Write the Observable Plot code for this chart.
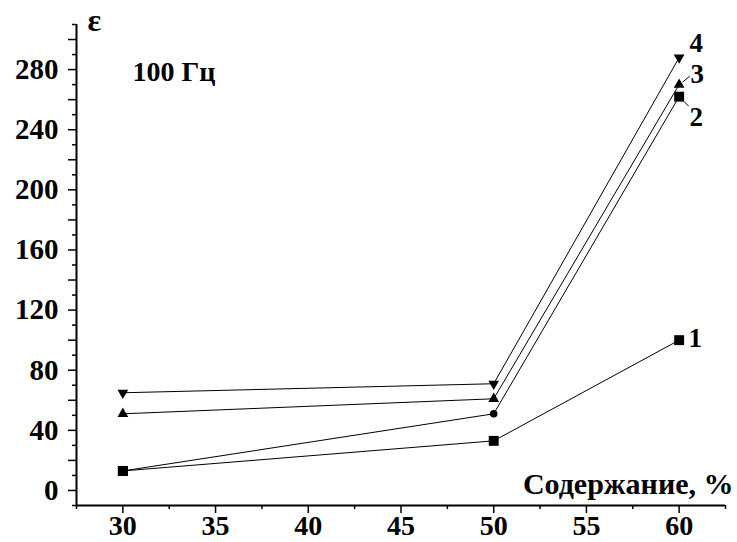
<!DOCTYPE html>
<html><head><meta charset="utf-8">
<script src="https://cdn.jsdelivr.net/npm/d3@7"></script>
<script src="https://cdn.jsdelivr.net/npm/@observablehq/plot@0.6"></script>
<style>
html,body{margin:0;padding:0;background:#fff;}
svg{display:block;}
</style></head>
<body><div id="chart"></div>
<script>
const contents = [30, 50, 60];
const series1 = [13, 33, 100];
const series2 = [13, 51, 262];
const series3 = [51, 61, 270];
const series4 = [65, 71, 288];
const seriesNames = ["1", "2", "3", "4"];
const yTickLabels = [0, 40, 80, 120, 160, 200, 240, 280];
const xTickLabels = [30, 35, 40, 45, 50, 55, 60];
const freqLabel = "100 Гц";
const yLabel = "ε";
const xLabel = "Содержание, %";

const all = [series1, series2, series3, series4];
const data = [];
all.forEach((s, i) => s.forEach((v, j) => data.push({series: seriesNames[i], x: contents[j], y: v})));

const isCircle = d => d.series === "2" && d.x === 50;
const squares = data.filter(d => (d.series === "1" || d.series === "2") && !isCircle(d));
const circles = data.filter(isCircle);
const upTri = data.filter(d => d.series === "3");
const downTri = data.filter(d => d.series === "4");

const font = "Liberation Serif, Times New Roman, serif";
const last = data.filter(d => d.x === 60);
const labelOffsets = {"1": [16, -2], "2": [17, 21], "3": [18, -10], "4": [17, -14]};

const leaders = (index, scales) => {
  const g = d3.create("svg:g").attr("stroke", "#000").attr("stroke-width", 1);
  const p3 = [scales.x(60), scales.y(series3[2])];
  const p2 = [scales.x(60), scales.y(series2[2])];
  g.append("line").attr("x1", p3[0] + 4).attr("y1", p3[1] - 2).attr("x2", p3[0] + 11).attr("y2", p3[1] - 8);
  g.append("line").attr("x1", p2[0] + 5).attr("y1", p2[1] + 5).attr("x2", p2[0] + 10).attr("y2", p2[1] + 10);
  return g.node();
};

const labelMarks = last.map(d => Plot.text([d], {x: "x", y: "y", text: "series", dx: labelOffsets[d.series][0], dy: labelOffsets[d.series][1], textAnchor: "middle", lineAnchor: "middle", fontSize: 27, fontWeight: "bold", fill: "#000"}));

const plot = Plot.plot({
  width: 737,
  height: 542,
  marginLeft: 76,
  marginRight: 12,
  marginTop: 24,
  marginBottom: 37,
  style: {fontFamily: font, background: "#fff"},
  x: {domain: [27.5, 62.5]},
  y: {domain: [-10, 310]},
  marks: [
    Plot.axisY(d3.range(-10, 311, 10).filter(v => v % 20 !== 0), {tickSize: 4, tickFormat: () => "", label: null, strokeWidth: 1.5}),
    Plot.axisY(d3.range(0, 301, 20).filter(v => v % 40 !== 0), {tickSize: 8, tickFormat: () => "", label: null, strokeWidth: 1.5}),
    Plot.axisY(yTickLabels, {tickSize: 8, tickPadding: 10, fontSize: 29, fontWeight: "bold", label: null, strokeWidth: 1.5, fill: "#000"}),
    Plot.axisX(d3.range(27.5, 62.6, 5), {tickSize: 4, tickFormat: () => "", label: null, strokeWidth: 1.5}),
    Plot.axisX(xTickLabels, {tickSize: 8, tickPadding: 2, fontSize: 28, fontWeight: "bold", label: null, strokeWidth: 1.5, fill: "#000"}),
    Plot.ruleX([27.5], {stroke: "#000", strokeWidth: 2}),
    Plot.ruleY([-10], {stroke: "#000", strokeWidth: 2}),
    Plot.line(data, {x: "x", y: "y", z: "series", stroke: "#000", strokeWidth: 1}),
    Plot.dot(squares, {x: "x", y: "y", symbol: "square", r: 5.6, fill: "#000", stroke: "none"}),
    Plot.dot(circles, {x: "x", y: "y", symbol: "circle", r: 3.8, fill: "#000", stroke: "none"}),
    Plot.dot(upTri, {x: "x", y: "y", symbol: "triangle", r: 4, fill: "#000", stroke: "none"}),
    Plot.dot(downTri, {x: "x", y: "y", symbol: "triangle", r: 4, rotate: 180, fill: "#000", stroke: "none"}),
    ...labelMarks,
    leaders,
    Plot.text([yLabel], {frameAnchor: "top-left", dx: 11, dy: -4, textAnchor: "start", lineAnchor: "middle", fontSize: 32, fontWeight: "bold", fill: "#000"}),
    Plot.text([freqLabel], {frameAnchor: "top-left", dx: 56, dy: 48, textAnchor: "start", lineAnchor: "middle", fontSize: 28, fontWeight: "bold", fill: "#000"}),
    Plot.text([xLabel], {frameAnchor: "bottom-right", dx: 8, dy: -12, textAnchor: "end", lineAnchor: "bottom", fontSize: 30, fontWeight: "bold", fill: "#000"})
  ]
});
document.getElementById("chart").appendChild(plot);
</script>
</body></html>
